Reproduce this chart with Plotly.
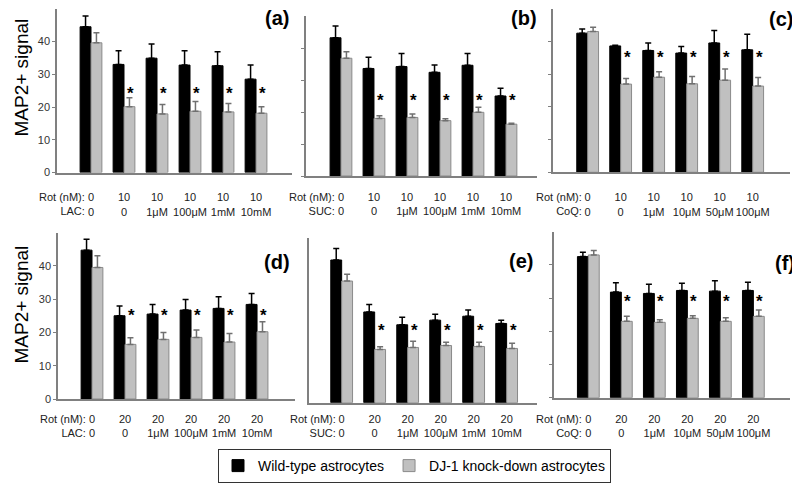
import plotly.graph_objects as go

# the page adds an 8 px body margin, so the figure is drawn 8 px in from the corner
OFF = 8
W, H = 800 - OFF, 486 - OFF
FONT = "Arial, 'Liberation Sans', sans-serif"

# x-axis labels (two lines under every pair of bars)
rot_10 = ['0', '10', '10', '10', '10', '10']
rot_20 = ['0', '20', '20', '20', '20', '20']
lac_doses = ['0', '0', '1μM', '100μM', '1mM', '10mM']
suc_doses = ['0', '0', '1μM', '100μM', '1mM', '10mM']
coq_doses = ['0', '0', '1μM', '10μM', '50μM', '100μM']

# (a) LAC, rotenone 10 nM
a_wt = [44.5, 33.0, 34.9, 32.8, 32.6, 28.5]
a_wt_err = [3.3, 4.2, 4.3, 4.4, 4.3, 4.3]
a_kd = [39.6, 20.1, 17.9, 18.7, 18.5, 18.1]
a_kd_err = [3.1, 2.7, 2.9, 3.0, 2.6, 2.0]
a_star = [None, 25.4, 25.4, 25.4, 25.4, 25.4]

# (b) SUC, rotenone 10 nM
b_wt = [43.2, 33.6, 34.2, 32.4, 34.6, 25.0]
b_wt_err = [3.7, 3.5, 4.1, 2.3, 3.7, 2.4]
b_kd = [36.8, 18.0, 18.3, 17.3, 19.9, 16.2]
b_kd_err = [2.0, 0.8, 1.1, 0.6, 1.6, 0.3]
b_star = [None, 24.8, 24.8, 24.8, 24.8, 24.8]

# (c) CoQ, rotenone 10 nM
c_wt = [42.6, 38.7, 37.3, 36.5, 39.6, 37.5]
c_wt_err = [1.3, 0.2, 2.3, 2.0, 3.8, 4.8]
c_kd = [43.1, 27.0, 29.1, 27.1, 28.2, 26.4]
c_kd_err = [1.3, 1.7, 1.7, 2.2, 3.4, 2.6]
c_star = [None, 36.5, 36.5, 36.5, 36.5, 36.5]

# (d) LAC, rotenone 20 nM
d_wt = [44.7, 25.0, 25.5, 26.7, 27.2, 28.4]
d_wt_err = [3.3, 2.9, 2.9, 3.2, 3.5, 3.3]
d_kd = [39.5, 16.4, 17.9, 18.5, 17.1, 20.2]
d_kd_err = [3.5, 2.0, 2.1, 2.2, 2.6, 3.0]
d_star = [None, 26.2, 26.2, 26.2, 26.2, 26.2]

# (e) SUC, rotenone 20 nM
e_wt = [43.4, 27.6, 23.7, 25.1, 26.3, 24.1]
e_wt_err = [3.5, 2.3, 2.3, 1.8, 1.9, 1.0]
e_kd = [37.0, 16.2, 16.8, 17.4, 17.1, 16.5]
e_kd_err = [2.1, 0.8, 1.9, 1.0, 1.3, 1.6]
e_star = [None, 23.1, 23.1, 23.1, 23.1, 23.1]

# (f) CoQ, rotenone 20 nM
f_wt = [42.5, 31.8, 31.4, 32.3, 32.1, 32.3]
f_wt_err = [1.3, 2.8, 2.8, 2.2, 3.1, 2.5]
f_kd = [43.0, 23.0, 22.7, 23.9, 23.0, 24.5]
f_kd_err = [1.3, 1.5, 0.8, 0.8, 1.1, 1.9]
f_star = [None, 30.1, 30.1, 30.1, 30.1, 30.1]

panels = [
    dict(tag='(a)', rot=rot_10, drug='LAC', doses=lac_doses, wt=a_wt, wt_err=a_wt_err, kd=a_kd, kd_err=a_kd_err, star=a_star),
    dict(tag='(b)', rot=rot_10, drug='SUC', doses=suc_doses, wt=b_wt, wt_err=b_wt_err, kd=b_kd, kd_err=b_kd_err, star=b_star),
    dict(tag='(c)', rot=rot_10, drug='CoQ', doses=coq_doses, wt=c_wt, wt_err=c_wt_err, kd=c_kd, kd_err=c_kd_err, star=c_star),
    dict(tag='(d)', rot=rot_20, drug='LAC', doses=lac_doses, wt=d_wt, wt_err=d_wt_err, kd=d_kd, kd_err=d_kd_err, star=d_star),
    dict(tag='(e)', rot=rot_20, drug='SUC', doses=suc_doses, wt=e_wt, wt_err=e_wt_err, kd=e_kd, kd_err=e_kd_err, star=e_star),
    dict(tag='(f)', rot=rot_20, drug='CoQ', doses=coq_doses, wt=f_wt, wt_err=f_wt_err, kd=f_kd, kd_err=f_kd_err, star=f_star),
]

# screen-pixel frame of each panel: x left/right, y of zero line / top of axis,
# x range, top of label text, tag centre, whether y ticks are shown
frames = [
    dict(x0=57, x1=292, yz=172.5, yt=8.75, xr=[-1.03, 6.09], lab=192, tagxy=(276.5, 18.5), ticks=True),
    dict(x0=306, x1=537, yz=176, yt=16, xr=[-1.06, 5.94], lab=192, tagxy=(523.5, 17.5), ticks=True),
    dict(x0=553, x1=790, yz=172.3, yt=9, xr=[-1.05, 6.13], lab=192, tagxy=(781, 19), ticks=True),
    dict(x0=58, x1=295, yz=399, yt=232.5, xr=[-1.03, 6.15], lab=414, tagxy=(277, 261.5), ticks=True),
    dict(x0=309, x1=537, yz=402.7, yt=238.3, xr=[-0.99, 5.92], lab=414, tagxy=(521, 261), ticks=False),
    dict(x0=554, x1=790, yz=397.7, yt=231.7, xr=[-1.04, 6.11], lab=414, tagxy=(785, 262.5), ticks=True),
]


def px(x):
    return (x - OFF) / W


def py(y):
    return 1 - (y - OFF) / H


BAR_W = 0.33
GRAY = '#c0c0c0'
AXIS = '#808080'

fig = go.Figure()
annotations = []
layout = {}
for i, (p, fr) in enumerate(zip(panels, frames)):
    n = '' if i == 0 else str(i + 1)
    xa, ya = 'x' + n, 'y' + n
    xs = list(range(len(p['wt'])))
    fig.add_trace(go.Bar(
        x=xs, y=p['wt'], name='Wild-type astrocytes', legendgroup='wt', showlegend=(i == 0),
        marker=dict(color='black', line=dict(color='black', width=1)),
        error_y=dict(type='data', symmetric=False, array=p['wt_err'], arrayminus=[0] * len(xs),
                     color='black', thickness=1.5, width=3),
        xaxis=xa, yaxis=ya))
    fig.add_trace(go.Bar(
        x=xs, y=p['kd'], name='DJ-1 knock-down astrocytes', legendgroup='kd', showlegend=(i == 0),
        marker=dict(color=GRAY, line=dict(color='#8a8a8a', width=1)),
        error_y=dict(type='data', symmetric=False, array=p['kd_err'], arrayminus=[0] * len(xs),
                     color='#707070', thickness=1.5, width=3),
        xaxis=xa, yaxis=ya))

    layout['xaxis' + n] = dict(
        domain=[px(fr['x0']), px(fr['x1'])], range=fr['xr'], anchor=ya,
        showline=True, linecolor=AXIS, linewidth=1.5, showgrid=False, zeroline=False,
        tickvals=xs, ticktext=[f'{r}<br>{d}' for r, d in zip(p['rot'], p['doses'])],
        ticks='', tickfont=dict(size=11, color='#222', family=FONT),
        ticklabelstandoff=round(fr['lab'] - fr['yz'] - 6))
    layout['yaxis' + n] = dict(
        domain=[py(fr['yz']), py(fr['yt'])], range=[0, 50], anchor=xa,
        showline=True, linecolor=AXIS, linewidth=1.5, showgrid=False, zeroline=False,
        tickvals=[0, 10, 20, 30, 40], ticks='outside' if fr['ticks'] else '', ticklen=3,
        tickcolor=AXIS, showticklabels=(i % 3 == 0),
        tickfont=dict(size=11, color='#333', family=FONT))

    # "Rot (nM):" / "LAC:" captions in front of the first label
    annotations.append(dict(
        xref=xa, x=xs[0], xanchor='right', xshift=-4,
        yref='paper', y=py(fr['lab'] - 3), yanchor='top',
        text=f"Rot (nM):<br>{p['drug']}:", align='right', showarrow=False,
        font=dict(size=11, color='#222', family=FONT)))
    # panel tag
    tx, ty = fr['tagxy']
    annotations.append(dict(
        xref='paper', yref='paper', x=px(tx), y=py(ty), xanchor='center', yanchor='middle',
        text=f"<b>{p['tag']}</b>", showarrow=False, font=dict(size=20, color='black', family=FONT)))
    # significance stars over the knock-down bars
    for x, s in zip(xs, p['star']):
        if s is None:
            continue
        annotations.append(dict(
            xref=xa, yref=ya, x=x + BAR_W / 2, y=s, xshift=1, yshift=-4,
            text='<b>*</b>', showarrow=False, font=dict(size=17, color='black', family=FONT)))

for yc in (78, 305):
    annotations.append(dict(
        xref='paper', yref='paper', x=0, y=py(yc), xanchor='left', yanchor='middle',
        text='MAP2+ signal', textangle=-90, showarrow=False,
        font=dict(size=19, color='black', family=FONT)))

fig.update_layout(
    **layout,
    annotations=annotations,
    barmode='group', bargap=1 - 2 * BAR_W, bargroupgap=0,
    width=W, height=H,
    margin=dict(l=0, r=0, t=0, b=0, autoexpand=False),
    paper_bgcolor='white', plot_bgcolor='white',
    font=dict(family=FONT, color='black'),
    legend=dict(orientation='h', x=px(218), y=py(449), xanchor='left', yanchor='top',
                bordercolor='#333', borderwidth=1, font=dict(size=14, family=FONT, color='black'),
                itemclick=False),
)

fig.write_html("out.html")
